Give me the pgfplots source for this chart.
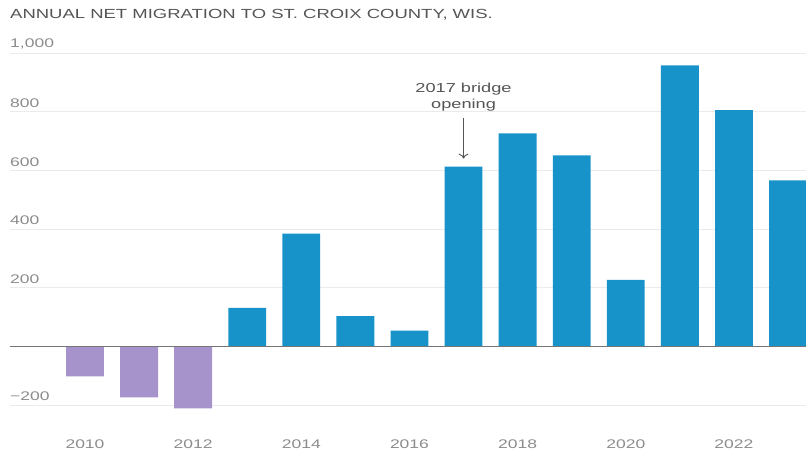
\documentclass[border=0pt]{standalone}
\usepackage{fontspec}
\setmainfont{Liberation Sans}[FakeStretch=1.4]
\usepackage{pgfplots}
\pgfplotsset{compat=1.18}
\usetikzlibrary{arrows.meta}
\definecolor{barblue}{HTML}{1793CA}
\definecolor{barpurple}{HTML}{A793CB}
\definecolor{gridc}{HTML}{EBEBEB}
\definecolor{zeroc}{HTML}{757575}
\definecolor{tickc}{HTML}{8C8C8C}
\definecolor{titlec}{HTML}{555555}
\begin{document}
\begin{tikzpicture}[x=1bp,y=1bp]
\begin{axis}[
  at={(0,0)}, anchor=south west,
  scale only axis, width=796bp, height=367bp,
  xmin=2008.613, xmax=2023.333, ymin=-251, ymax=1000,
  axis line style={draw=none},
  major tick length=0pt,
  ytick={-200,200,400,600,800,1000},
  yticklabels={−200,200,400,600,800,{1,000}},
  extra y ticks={0}, extra y tick labels={},
  extra y tick style={grid style={zeroc, line width=1.5bp}},
  ymajorgrids, grid style={gridc, line width=0.8bp},
  yticklabel style={anchor=south west, inner xsep=0pt, inner ysep=0pt, yshift=4bp, font=\fontsize{12.5bp}{14bp}\selectfont, text=tickc},
  xtick={2010,2012,2014,2016,2018,2020,2022},
  xticklabels={2010,2012,2014,2016,2018,2020,2022},
  xticklabel style={font=\fontsize{12.5bp}{14bp}\selectfont, text=tickc, yshift=-16bp},
  clip=false,
]
\addplot[ybar, bar width=0.7, bar shift=0pt, fill=barpurple, draw=none] coordinates {
  (2010,-102) (2011,-174) (2012,-211)};
\addplot[ybar, bar width=0.7, bar shift=0pt, fill=barblue, draw=none] coordinates {
  (2013,131) (2014,384) (2015,103) (2016,54) (2017,613) (2018,726)
  (2019,651) (2020,227) (2021,958) (2022,805) (2023,566)};
\draw[zeroc, line width=1.5bp] (axis cs:2008.613,0) -- (axis cs:2023.333,0);
\draw[-{To[length=5bp,width=10bp]}, titlec, line width=0.9bp] (axis cs:2017,778) -- (axis cs:2017,640);
\node[anchor=south, align=center, text=titlec, font=\fontsize{13bp}{16bp}\selectfont, inner sep=0pt] at (axis cs:2017,800) {2017 bridge\\opening};
\end{axis}
\node[anchor=west, inner sep=0pt, text=titlec, font=\fontsize{13.2bp}{15bp}\selectfont] at (0,405) {ANNUAL NET MIGRATION TO ST. CROIX COUNTY, WIS.};
\pgfresetboundingbox
\path (-10,-41) rectangle (796,420);
\end{tikzpicture}
\end{document}
